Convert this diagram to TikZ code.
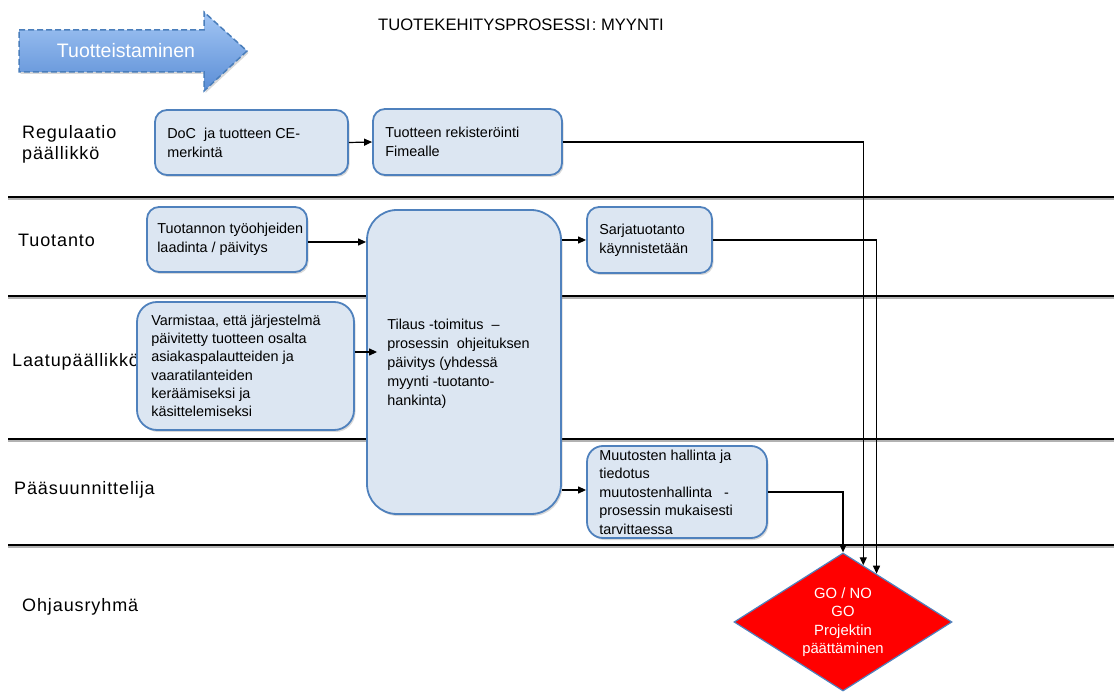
\documentclass[tikz,border=0pt]{standalone}
\usepackage{fontspec}
\setmainfont{Liberation Sans}
\newfontfamily\lanefont[LetterSpace=5]{Liberation Sans}
\usetikzlibrary{shapes.geometric,shadows,arrows.meta,calc,backgrounds}

\definecolor{boxfill}{HTML}{DCE6F2}
\definecolor{boxline}{HTML}{4F81BD}
\definecolor{arrowtop}{HTML}{A3C6F4}
\definecolor{arrowbot}{HTML}{5B8ED6}
\definecolor{arrowline}{HTML}{4A7EBB}
\definecolor{decision}{HTML}{FF0000}

\tikzset{
  stepbox/.style={draw=boxline, fill=boxfill, line width=1.8pt, rounded corners=12pt,
    inner sep=0pt, drop shadow={shadow xshift=1.5pt, shadow yshift=-2pt, opacity=0.3}},
  boxtext/.style={anchor=west, align=left, inner sep=0pt,
    font=\fontsize{14.4}{19}\selectfont},
  lanelabel/.style={anchor=west, align=left, inner sep=0pt,
    font=\lanefont\fontsize{18}{21}\selectfont},
  laneline/.style={line width=1.8pt, black},
  laneshade/.style={line width=1.5pt, black!30},
  flow/.style={line width=1.2pt, -{Triangle[length=8pt,width=7pt]}},
}

\begin{document}
\begin{tikzpicture}[x=1pt, y=-1pt]
\useasboundingbox (0,0) rectangle (1114,692);

% header: process arrow and title
\path[draw=arrowline, dash pattern=on 6pt off 3pt, line width=1.5pt,
      top color=arrowtop, bottom color=arrowbot,
      drop shadow={shadow xshift=1.5pt, shadow yshift=-2pt, opacity=0.3}]
  (19,30) -- (204,30) -- (204,12) -- (247,51) -- (204,91) -- (204,72) -- (19,72) -- cycle;
\node[font=\fontsize{19.5}{21}\selectfont, text=white, inner sep=0pt] (phase) at (126,51) {Tuotteistaminen};
\node[anchor=west, inner sep=0pt, font=\fontsize{16.6}{18}\selectfont] (title) at (378,25)
  {TUOTEKEHITYSPROSESSI\hspace{1.5pt}: MYYNTI};

% process steps
\node[stepbox, minimum width=193pt, minimum height=65pt] (doc) at (251.5,142.5) {};
\node[boxtext] (doc-t) at ([xshift=13pt]doc.west) {DoC \ ja tuotteen CE-\\merkintä};

\node[stepbox, minimum width=189pt, minimum height=66pt] (rek) at (467.5,142) {};
\node[boxtext] (rek-t) at ([xshift=13pt]rek.west) {Tuotteen rekisteröinti\\Fimealle};

\node[stepbox, minimum width=160pt, minimum height=65pt] (tuot) at (227,239.5) {};
\node[boxtext] (tuot-t) at ([xshift=11pt]tuot.west) {Tuotannon työohjeiden\\laadinta / päivitys};

\node[stepbox, rounded corners=30pt, minimum width=194pt, minimum height=304pt] (big) at (464,362) {};
\node[boxtext] (big-t) at ([xshift=21pt,yshift=-2pt]big.west)
  {Tilaus -toimitus \ –\\prosessin \ ohjeituksen\\päivitys (yhdessä\\myynti -tuotanto-\\hankinta)};

\node[stepbox, minimum width=125pt, minimum height=66pt] (sarja) at (649.5,240) {};
\node[boxtext] (sarja-t) at ([xshift=13pt]sarja.west) {Sarjatuotanto\\käynnistetään};

\node[stepbox, rounded corners=20pt, minimum width=217pt, minimum height=128pt] (varm) at (245.5,366) {};
\node[boxtext, font=\fontsize{14.4}{18.3}\selectfont] (varm-t) at ([xshift=15pt]varm.west)
  {Varmistaa, että järjestelmä\\päivitetty tuotteen osalta\\asiakaspalautteiden ja\\vaaratilanteiden\\keräämiseksi ja\\käsittelemiseksi};

\node[stepbox, rounded corners=16pt, minimum width=180pt, minimum height=92pt] (muut) at (677,492) {};
\node[boxtext, font=\fontsize{14.4}{18.5}\selectfont] (muut-t) at ([xshift=13pt]muut.west)
  {Muutosten hallinta ja\\tiedotus\\muutostenhallinta \ \ -\\prosessin mukaisesti\\tarvittaessa};

\node[diamond, draw=boxline, fill=decision, line width=1.2pt, inner sep=0pt, aspect=1.55,
      minimum width=218pt, minimum height=138pt, align=center, text=white,
      font=\fontsize{14.8}{18.5}\selectfont] (gate) at (843,622)
  {GO / NO\\GO\\Projektin\\päättäminen};

% swimlanes
\begin{scope}[on background layer]
  \foreach \y [count=\i] in {197,296,439,545} {
    \draw[laneshade] (8,\y+2) -- (1114,\y+2);
    \draw[laneline] (8,\y) -- (1114,\y);
  }
  \node[lanelabel] (lane1) at (22,144) {Regulaatio\\päällikkö};
  \node[lanelabel] (lane2) at (18,240) {Tuotanto};
  \node[lanelabel] (lane3) at (12,362) {Laatupäällikkö};
  \node[lanelabel] (lane4) at (14,490) {Pääsuunnittelija};
  \node[lanelabel] (lane5) at (22,607) {Ohjausryhmä};
\end{scope}

% flow between steps
\coordinate (in-rek) at ($(gate.north)!0.185!(gate.east)$);
\coordinate (in-sarja) at ($(gate.north)!0.306!(gate.east)$);

\draw[flow] (doc.east) -- (rek.west);
\draw[flow] (rek.east) -| (in-rek);
\draw[flow] (tuot.east |- 0,242) -- (big.west |- 0,242);
\draw[flow] (big.east |- sarja.west) -- (sarja.west);
\draw[flow] (sarja.east) -| (in-sarja);
\draw[flow] (varm.east |- 0,352) -- ([xshift=11pt]big.west |- 0,352);
\draw[flow] (big.east |- 0,490) -- (muut.west |- 0,490);
\draw[flow] (muut.east) -| (gate.north);
\end{tikzpicture}
\end{document}
